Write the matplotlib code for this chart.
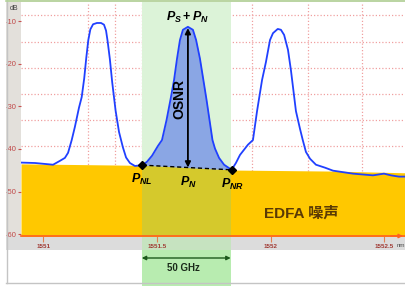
import numpy as np
import matplotlib
matplotlib.use("Agg")
import matplotlib.pyplot as plt
from matplotlib.patches import Rectangle
from matplotlib.lines import Line2D
from matplotlib.transforms import blended_transform_factory

plt.rcParams['mathtext.fontset'] = 'custom'
plt.rcParams['mathtext.it'] = 'Liberation Sans:italic:bold'
plt.rcParams['mathtext.rm'] = 'Liberation Sans:bold'
plt.rcParams['mathtext.bf'] = 'Liberation Sans:bold'

# ---------------- data ----------------
trace_wl = [1550.902, 1550.964, 1551.043, 1551.073, 1551.095, 1551.109, 1551.125, 1551.139,
            1551.157, 1551.169, 1551.180, 1551.189, 1551.198, 1551.207, 1551.219, 1551.236,
            1551.254, 1551.267, 1551.276, 1551.283, 1551.293, 1551.303, 1551.318, 1551.333,
            1551.350, 1551.364, 1551.381, 1551.403, 1551.436, 1551.456, 1551.478,
            1551.504, 1551.522, 1551.542, 1551.559, 1551.575, 1551.588, 1551.601, 1551.614,
            1551.636, 1551.658, 1551.672, 1551.689, 1551.704, 1551.718, 1551.731, 1551.744,
            1551.755, 1551.773, 1551.795, 1551.828, 1551.847, 1551.865, 1551.900, 1551.922,
            1551.940, 1551.962, 1551.979, 1551.997, 1552.010, 1552.031, 1552.045, 1552.059,
            1552.076, 1552.089, 1552.111, 1552.129, 1552.141, 1552.155, 1552.173, 1552.199,
            1552.239, 1552.274, 1552.362, 1552.450, 1552.498, 1552.529, 1552.564, 1552.595]
trace_db = [-43.2, -43.3, -43.7, -42.8, -42.1, -40.9, -37.9, -34.8,
            -30.3, -27.8, -23.4, -18.6, -14.4, -11.9, -10.7, -10.4,
            -10.4, -10.8, -12.2, -14.7, -19.0, -24.3, -31.0, -36.0,
            -39.6, -42.0, -43.3, -44.0, -43.8, -43.0, -41.6,
            -39.3, -37.9, -33.2, -28.5, -23.8, -18.8, -14.4, -12.0,
            -11.3, -12.0, -14.4, -18.8, -23.8, -28.5, -33.2, -37.9,
            -39.9, -42.1, -43.7, -44.9, -43.3, -41.4, -39.0, -37.9,
            -31.1, -23.8, -19.6, -14.4, -12.8, -11.8, -12.0, -13.2,
            -16.7, -21.5, -31.1, -35.3, -37.9, -40.7, -42.3, -43.7,
            -44.4, -45.1, -45.8, -46.2, -45.8, -46.2, -46.5, -46.5]

floor_wl = [1550.902, 1551.436, 1551.828, 1552.274, 1552.595]
floor_db = [-43.5, -43.85, -44.95, -45.2, -45.6]

pnl = (1551.436, -43.8)
pnr = (1551.828, -44.9)
peak_wl = 1551.636
peak_db = -11.3

band = (1551.433, 1551.824)   # 50 GHz channel

xticks = [1551, 1551.5, 1552, 1552.5]
xticklabels = ['1551', '1551.5', '1552', '1552.5']
yticks = [-10, -20, -30, -40, -50, -60]
yticklabels = ['-10', '-20', '-30', '-40', '-50', '-60']

hgrid = [-8.64, -14.86, -20.96, -27.06, -33.17, -39.27]
vgrid = [1551.197, 1551.315, 1551.433, 1551.917, 1552.164, 1552.402]

# ---------------- figure ----------------
W, H = 406, 286
fig = plt.figure(figsize=(W / 100, H / 100), dpi=100)
fig.patch.set_facecolor('white')

def fx(x):
    return x / W

def fy(y):
    return 1 - y / H

# frame pieces
fig.add_artist(Rectangle((fx(6), fy(250)), fx(400), 250 / H, transform=fig.transFigure,
                         facecolor='#e3e0db', edgecolor='none', zorder=-2))
fig.add_artist(Rectangle((fx(6), fy(250)), fx(400), 14 / H, transform=fig.transFigure,
                         facecolor='#dcdcdc', edgecolor='none', zorder=-1))
fig.add_artist(Line2D([fx(6.5), fx(6.5)], [fy(0), fy(283)], transform=fig.transFigure,
                      color='#c4c4c4', lw=1))
fig.add_artist(Line2D([fx(6), fx(406)], [fy(283), fy(283)], transform=fig.transFigure,
                      color='#c4c4c4', lw=1))
fig.add_artist(Line2D([fx(6), fx(406)], [fy(0.6), fy(0.6)], transform=fig.transFigure,
                      color='#b3d398', lw=1.2))

ax = fig.add_axes([fx(21), fy(236), fx(385), 234 / H])
ax.set_xlim(1550.902, 1552.595)
ax.set_ylim(-60.45, -5.47)

# grid
for g in hgrid:
    ax.axhline(g, color='#f0a0a0', lw=0.9, ls=(0, (1, 1.6)), zorder=0.5)
for g in vgrid:
    ax.axvline(g, color='#f0a0a0', lw=0.9, ls=(0, (1, 1.6)), zorder=0.5)

# channel band inside plot
ax.axvspan(band[0], band[1], color='#dcf3d8', zorder=1, lw=0)

# EDFA noise floor
noise = ax.fill_between(floor_wl, floor_db, -61, color='#ffc800', zorder=2, lw=0)
olive = Rectangle((band[0], -61), band[1] - band[0], 30, facecolor='#d5c92c',
                  edgecolor='none', zorder=2.1)
ax.add_patch(olive)
olive.set_clip_path(noise.get_paths()[0], transform=ax.transData)

# channel signal fill
tw = np.array(trace_wl)
td = np.array(trace_db)
m = (tw >= pnl[0]) & (tw <= pnr[0])
base = pnl[1] + (tw[m] - pnl[0]) * (pnr[1] - pnl[1]) / (pnr[0] - pnl[0])
ax.fill_between(tw[m], td[m], base, color='#8aa6e4', zorder=3, lw=0)

# spectrum trace
ax.plot(trace_wl, trace_db, color='#2040ff', lw=1.3, zorder=4,
        solid_joinstyle='round', solid_capstyle='round')

# dashed noise interpolation line and markers
ax.plot([pnl[0], pnr[0]], [pnl[1], pnr[1]], color='black', lw=1.0, ls=(0, (3, 2)), zorder=5)
ax.plot([pnl[0], pnr[0]], [pnl[1], pnr[1]], 'D', color='black', ms=4.5, zorder=6)

pn_db = pnl[1] + (peak_wl - pnl[0]) * (pnr[1] - pnl[1]) / (pnr[0] - pnl[0])
ax.annotate('', xy=(peak_wl, peak_db - 0.3), xytext=(peak_wl, pn_db),
            arrowprops=dict(arrowstyle='<|-|>', color='black', lw=1.3,
                            mutation_scale=8, shrinkA=0, shrinkB=0), zorder=6)

ax.text(1551.597, -28.2, 'OSNR', rotation=90, ha='center', va='center',
        fontsize=10, fontweight='bold', family='Liberation Sans', zorder=7)
ax.text(1551.634, -9.0, r'$P_{S}+P_{N}$', ha='center', va='center', fontsize=9, zorder=7)
ax.text(1551.432, -47.96, r'$P_{NL}$', ha='center', va='baseline', fontsize=9, zorder=7)
ax.text(1551.638, -48.66, r'$P_{N}$', ha='center', va='baseline', fontsize=9, zorder=7)
ax.text(1551.830, -49.1, r'$P_{NR}$', ha='center', va='baseline', fontsize=9, zorder=7)

ax.text(1552.136, -56.2, 'EDFA 噪声', ha='center', va='baseline', fontsize=11,
        fontweight='bold', color='#5a3a05',
        family=['Liberation Sans', 'Noto Sans CJK SC'], zorder=7)

# green band below axes
bt = blended_transform_factory(ax.transData, fig.transFigure)
ax.add_patch(Rectangle((band[0], 0), band[1] - band[0], 36 / H, transform=bt,
                       facecolor='#b8ecb0', edgecolor='none', clip_on=False, zorder=1))
ax.add_patch(Rectangle((band[0], 36 / H), band[1] - band[0], 14 / H, transform=bt,
                       facecolor='#c6e3c0', edgecolor='none', clip_on=False, zorder=1))
ax.annotate('', xy=(band[1], fy(258)), xytext=(band[0], fy(258)),
            xycoords=('data', 'figure fraction'), textcoords=('data', 'figure fraction'),
            arrowprops=dict(arrowstyle='<|-|>', color='#1c5a1c', lw=1.0,
                            mutation_scale=6, shrinkA=0, shrinkB=0), annotation_clip=False)
fig.text(fx(183), fy(271), '50 GHz', ha='center', va='baseline', fontsize=7,
         fontweight='bold', family='Liberation Sans', color='#1a2a1a')

# axes styling
for s in ['top', 'right', 'left']:
    ax.spines[s].set_visible(False)
ax.spines['bottom'].set_color('#ff6020')
ax.spines['bottom'].set_linewidth(1.2)
ax.spines['bottom'].set_zorder(8)
ax.annotate('', xy=(0.992, 0), xytext=(0.96, 0), xycoords='axes fraction',
            arrowprops=dict(arrowstyle='-|>', color='#ff6020', lw=1.0,
                            mutation_scale=6, shrinkA=0, shrinkB=0), annotation_clip=False)

ax.set_xticks(xticks)
ax.set_xticklabels(xticklabels, fontsize=4.5, fontweight='bold', color='#a03a34',
                   family='Liberation Sans')
ax.set_yticks(yticks)
ax.set_yticklabels(yticklabels, fontsize=5.5, color='#c04848', family='Liberation Sans')
ax.tick_params(axis='x', direction='out', length=4, width=0.8, color='#e08050', pad=2)
ax.tick_params(axis='y', direction='out', length=2.5, width=0.8, color='#c85050', pad=0.5)

fig.text(fx(401), fy(247), 'nm', ha='center', va='baseline', fontsize=4.5,
         color='#505050', family='Liberation Sans')
fig.text(fx(14), fy(10), 'dB', ha='center', va='baseline', fontsize=5,
         color='#404040', family='Liberation Sans')

fig.savefig('out.png', dpi=100)
